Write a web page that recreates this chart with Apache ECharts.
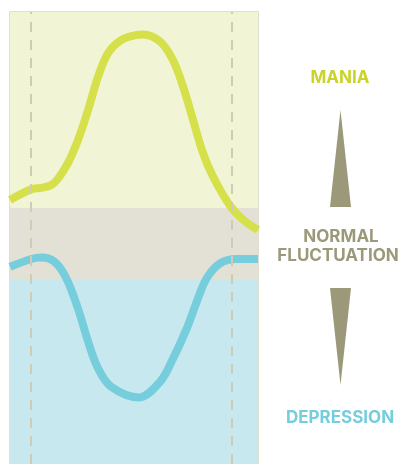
<!DOCTYPE html>
<html><head><meta charset="utf-8">
<script src="https://cdn.jsdelivr.net/npm/echarts@6/dist/echarts.min.js"></script>
<style>html,body{margin:0;padding:0;background:#fff}#c{width:401px;height:464px}</style>
</head><body><div id="c"></div>
<script>
// time (0-100) across the panel
const maniaX = [0, 8.6, 12.6, 16.5, 19.4, 23.4, 27.4, 31.5, 35.5, 39.5, 44.8, 50.8, 53.6, 60.5, 65.7, 69.8, 73.8, 77.8, 81.9, 88.7, 94, 100];
const maniaY = [12.2, 15.2, 15.6, 16.3, 18.2, 22.6, 29, 37.5, 46.8, 53.4, 57.1, 58.5, 58.7, 56.7, 51.5, 44, 34.7, 25.4, 18.7, 10.6, 6.6, 3.7];
const depX = [0, 8.6, 12.6, 18, 22.7, 27.4, 31.5, 35.5, 40.8, 52, 60.5, 65.8, 71.3, 75.3, 79.3, 84.7, 91.4, 100];
const depY = [-6.6, -4.4, -4, -5.2, -9.8, -18.3, -27.6, -35.1, -40.3, -43.3, -38.9, -32.3, -23.9, -16.4, -9.8, -5.6, -4.4, -4.4];
const bands = [
  {name: 'MANIA', from: 10, to: 65},
  {name: 'NORMAL FLUCTUATION', from: -10, to: 10},
  {name: 'DEPRESSION', from: -62, to: -10}
];
const cycleMarks = [8.5, 89.5];

const zip = (xs, ys) => xs.map((x, i) => [x, ys[i]]);
const chart = echarts.init(document.getElementById('c'));
const font = 'bold 17px Inter';
chart.setOption({
  animation: false,
  grid: {left: 10, top: 12, width: 248, bottom: 0, show: true, borderColor: '#d8d5bd', borderWidth: 1.5, backgroundColor: 'transparent'},
  xAxis: {type: 'value', min: 0, max: 100, show: false},
  yAxis: {type: 'value', min: -62, max: 65, show: false},
  series: [
    {
      type: 'line', data: [], silent: true,
      markArea: {silent: true, data: [
        [{yAxis: bands[0].from, itemStyle: {color: '#f1f5d5'}}, {yAxis: bands[0].to}],
        [{yAxis: bands[1].from, itemStyle: {color: '#e3e1d6'}}, {yAxis: bands[1].to}],
        [{yAxis: bands[2].from, itemStyle: {color: '#c6e8ee'}}, {yAxis: bands[2].to}]
      ]},
      markLine: {silent: true, symbol: 'none', label: {show: false},
        lineStyle: {color: '#d0ccb4', width: 2, type: [10, 8]},
        data: cycleMarks.map(v => ({xAxis: v}))}
    },
    {type: 'line', data: zip(maniaX, maniaY), smooth: 0.35, showSymbol: false, lineStyle: {color: '#d5e04a', width: 8}},
    {type: 'line', data: zip(depX, depY), smooth: 0.35, showSymbol: false, lineStyle: {color: '#76cddc', width: 8}}
  ],
  graphic: [
    {type: 'text', x: 340, y: 78, style: {text: bands[0].name, font: font, fill: '#c9d32b', align: 'center', verticalAlign: 'middle'}},
    {type: 'polygon', shape: {points: [[340.5, 110], [351, 207], [330, 207]]}, style: {fill: '#9c987a'}},
    {type: 'text', x: 341, y: 237, style: {text: 'NORMAL', font: font, fill: '#9c987a', align: 'center', verticalAlign: 'middle'}},
    {type: 'text', x: 338, y: 256, style: {text: 'FLUCTUATION', font: font, fill: '#9c987a', align: 'center', verticalAlign: 'middle'}},
    {type: 'polygon', shape: {points: [[330, 288], [351, 288], [340.5, 385]]}, style: {fill: '#9c987a'}},
    {type: 'text', x: 340, y: 418, style: {text: bands[2].name, font: font, fill: '#76cddc', align: 'center', verticalAlign: 'middle'}}
  ]
});
</script></body></html>
